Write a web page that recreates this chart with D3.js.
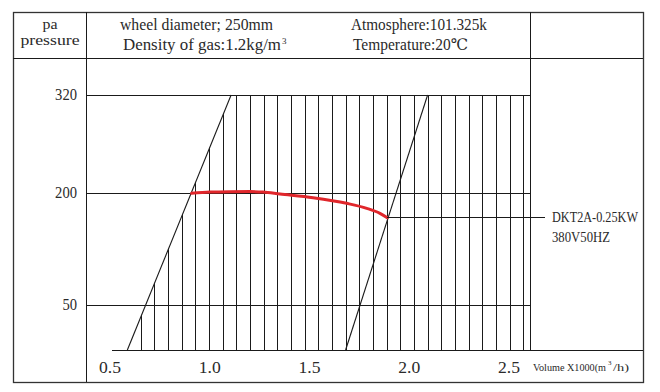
<!DOCTYPE html>
<html><head><meta charset="utf-8">
<script src="https://cdn.jsdelivr.net/npm/d3@7"></script>
<style>
html,body{margin:0;padding:0;background:#fff;}
svg text{font-family:"Liberation Serif","DejaVu Serif",serif;fill:#2a2a2a;}
</style></head>
<body><svg id="chart" width="660" height="392"></svg>
<script>
// ---- data ----
const yTicks = [50, 200, 320];
const xTicks = [0.5, 1.0, 1.5, 2.0, 2.5];
const xTickLabels = ["0.5", "1.0", "1.5", "2.0", "2.5"];
const hatchVolumes = [0.654,0.723,0.791,0.860,0.928,0.997,1.065,1.134,1.202,1.271,1.339,1.408,1.476,1.545,1.613,1.682,1.750,1.819,1.887,1.956,2.024,2.093,2.161,2.230,2.298,2.367,2.435,2.504,2.572];
const leftBoundVolume = [0.587, 1.107];
const rightBoundVolume = [1.681, 2.092];
const boundPressure = [0, 320];
const curveVolume   = [0.909, 1.001, 1.102, 1.202, 1.267, 1.352, 1.518, 1.686, 1.787, 1.853, 1.890];
const curvePressure = [199.6, 201.2, 201.6, 201.7, 201.2, 198.7, 193.7, 186.2, 179.5, 172.8, 166.9];
const modelLabels = ["DKT2A-0.25KW", "380V50HZ"];
const headerLeft = ["pa", "pressure"];
const headerMid = ["wheel diameter; 250mm", "Density of gas:1.2kg/m"];
const headerRight = ["Atmosphere:101.325k", "Temperature:20℃"];
const axisTitle = ["Volume X1000(m", "3", "/h)"];

// ---- layout ----
const svg = d3.select("#chart");
const F = {l:13, t:12, r:643, b:382, head:58, col1:86, col2:530, axisY:350};
const x = d3.scaleLinear().domain([0.5, 2.5]).range([110, 509]);
const y = d3.scaleLinear().domain([0, 50, 200, 320]).range([350, 305, 193, 95]);
const ink = "#1a1a1a";
const FS = 16;

const g = svg.append("g");
function line(x1,y1,x2,y2,w){ g.append("line").attr("x1",x1).attr("y1",y1).attr("x2",x2).attr("y2",y2)
  .attr("stroke",ink).attr("stroke-width",w||1).attr("shape-rendering","crispEdges"); }
function txt(xp, yp, s, len, opts){
  opts = opts || {};
  const t = svg.append("text").attr("x",xp).attr("y",yp).attr("font-size",opts.fs||FS)
    .attr("text-anchor",opts.anchor||"start").text(s);
  if(len){ t.attr("textLength",len).attr("lengthAdjust","spacingAndGlyphs"); }
  return t;
}

// frame
g.append("rect").attr("x",F.l+0.5).attr("y",F.t+0.5).attr("width",F.r-F.l).attr("height",F.b-F.t)
  .attr("fill","none").attr("stroke","#333").attr("stroke-width",1.3);
line(F.l, F.head, F.r, F.head);
line(F.col1, F.t, F.col1, F.b);
line(F.col2, F.t, F.col2, F.axisY);
line(x(0.5)+2, F.axisY, F.r, F.axisY);

// horizontal grid lines
yTicks.forEach(v => line(F.col1, y(v), F.col2, y(v)));

// hatching clipped by left boundary
const clipPts = [[x(leftBoundVolume[0]), y(boundPressure[0])], [x(leftBoundVolume[1]), y(boundPressure[1])],
  [F.col2, y(boundPressure[1])], [F.col2, y(boundPressure[0])]];
svg.append("defs").append("clipPath").attr("id","hclip").append("polygon").attr("points", clipPts.map(p=>p.join(",")).join(" "));
const hg = svg.append("g").attr("clip-path","url(#hclip)");
hg.selectAll("line").data(hatchVolumes).join("line")
  .attr("x1", d=>Math.round(x(d))+0.5).attr("x2", d=>Math.round(x(d))+0.5)
  .attr("y1", y(0)).attr("y2", y(320)).attr("stroke", ink).attr("stroke-width", 1);

// boundary diagonals
[leftBoundVolume, rightBoundVolume].forEach(vs => {
  svg.append("line").attr("x1",x(vs[0])).attr("y1",y(boundPressure[0])).attr("x2",x(vs[1])).attr("y2",y(boundPressure[1]))
    .attr("stroke",ink).attr("stroke-width",1.1);
});

// performance curve
const pts = curveVolume.map((v,i)=>[v, curvePressure[i]]);
svg.append("path").datum(pts)
  .attr("d", d3.line().x(d=>x(d[0])).y(d=>y(d[1])).curve(d3.curveMonotoneX))
  .attr("fill","none").attr("stroke","#e0262b").attr("stroke-width",3).attr("stroke-linecap","round");

// model leader + labels
const last = pts[pts.length-1];
svg.append("line").attr("x1",x(last[0])).attr("y1",y(last[1])).attr("x2",F.col2+15).attr("y2",y(last[1]))
  .attr("stroke",ink).attr("stroke-width",1).attr("shape-rendering","crispEdges");
txt(552, y(last[1])+4, modelLabels[0], 86, {fs:14});
txt(552, y(last[1])+24, modelLabels[1], 58, {fs:14});

// y tick labels
yTicks.forEach(v => txt(77, y(v)+5, String(v), String(v).length*7.3, {anchor:"end"}));

// x tick labels
xTicks.forEach((v,i) => txt(x(v), 373, xTickLabels[i], 22, {anchor:"middle"}));

// axis title
txt(533, 370.5, axisTitle[0], 73, {fs:10});
txt(608, 364.5, axisTitle[1], null, {fs:7});
txt(613, 370.5, axisTitle[2], 16, {fs:10.5});

// header texts
txt(50, 29, headerLeft[0], 15, {anchor:"middle", fs:14});
txt(50, 45, headerLeft[1], 59, {anchor:"middle", fs:14});
txt(120, 30, headerMid[0], 153);
txt(123, 50, headerMid[1], 158);
txt(282, 44, "3", null, {fs:9});
txt(351, 30, headerRight[0], 136);
txt(353, 50, headerRight[1], 115);
</script></body></html>
